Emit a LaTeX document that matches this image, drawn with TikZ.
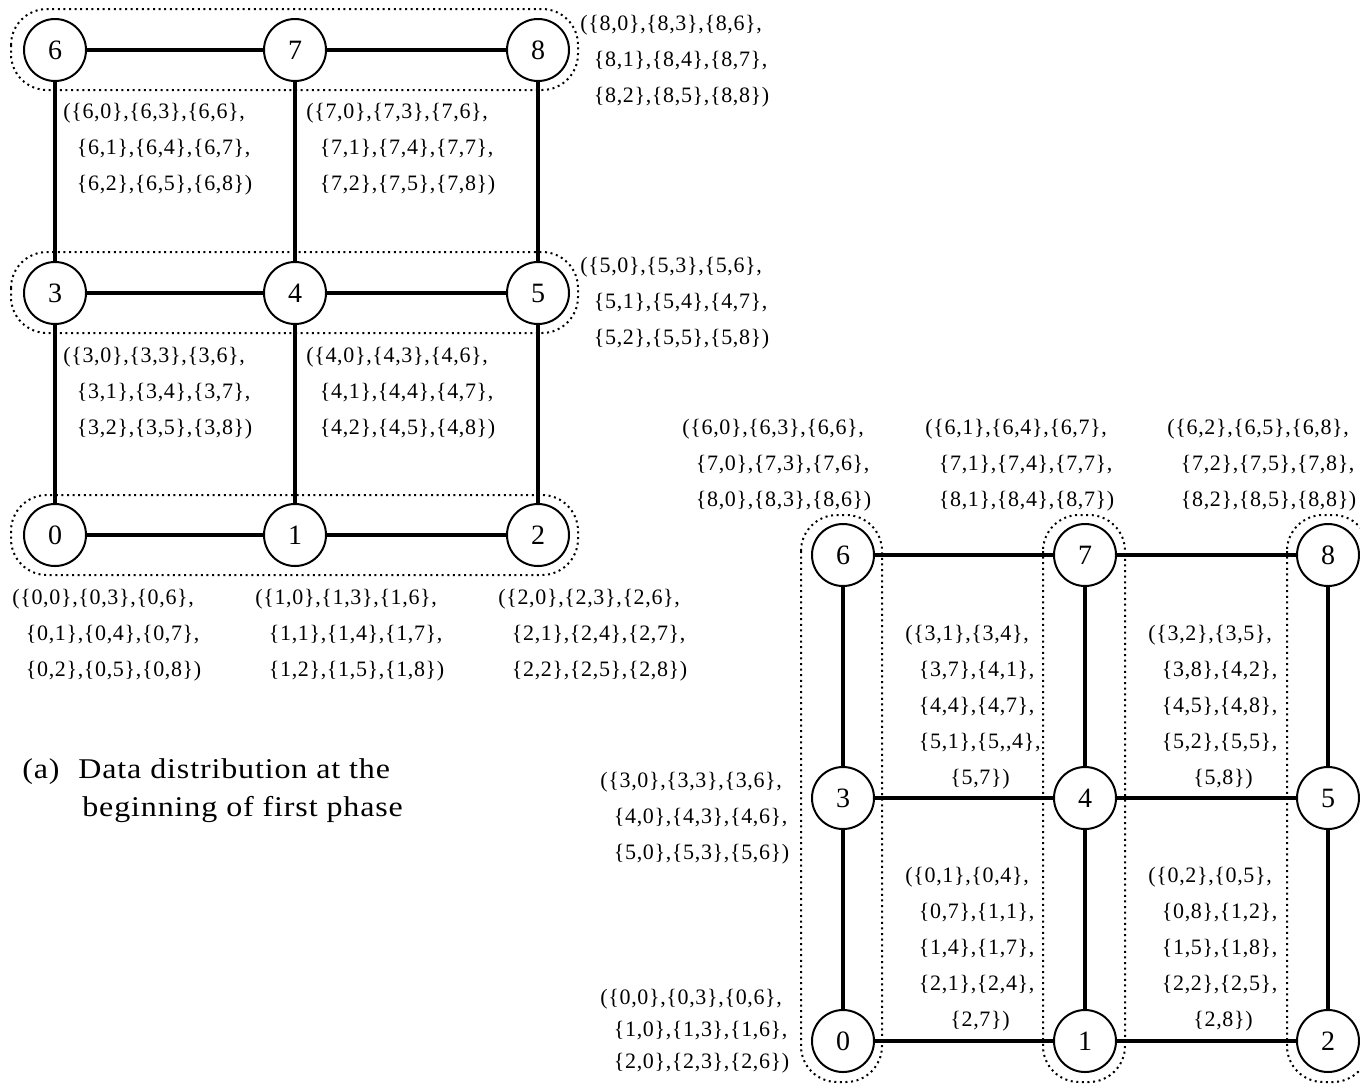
\documentclass[tikz,border=0pt]{standalone}
\usepackage{fontspec}
\setmainfont{Liberation Serif}
\newfontfamily\labfont[LetterSpace=3]{Liberation Serif}
\newfontfamily\capfont[FakeStretch=1.12,LetterSpace=3]{Liberation Serif}
\newcommand\lind{\hspace*{6.75pt}}
\newcommand\lindd{\hspace*{22.5pt}}
\begin{document}
\begin{tikzpicture}[x=0.5pt,y=-0.5pt,
  pe/.style={circle,draw,line width=1pt,minimum size=31pt,inner sep=0pt,fill=white,
    font=\fontsize{14}{16}\selectfont},
  link/.style={line width=1.7pt},
  group/.style={line width=1pt,dash pattern=on 1pt off 1.8pt,rounded corners=18pt},
  lab/.style={anchor=west,align=left,inner sep=0pt,font=\labfont\fontsize{11}{18}\selectfont},
  capstyle/.style={anchor=west,align=left,inner sep=0pt,font=\capfont\fontsize{14.3}{19}\selectfont},
]
\useasboundingbox (0,0) rectangle (1360,1083);
\clip (0,0) rectangle (1360,1083);

% ---------- (a) first phase: row groups ----------
\draw[group] (11,9) rectangle (578,90);
\draw[group] (11,252) rectangle (578,333);
\draw[group] (11,495) rectangle (578,575);

\node[pe] (a6) at (55,50) {6};
\node[pe] (a7) at (295,50) {7};
\node[pe] (a8) at (538,50) {8};
\node[pe] (a3) at (55,293) {3};
\node[pe] (a4) at (295,293) {4};
\node[pe] (a5) at (538,293) {5};
\node[pe] (a0) at (55,535) {0};
\node[pe] (a1) at (295,535) {1};
\node[pe] (a2) at (538,535) {2};

\draw[link] (a6)--(a7) (a7)--(a8) (a3)--(a4) (a4)--(a5) (a0)--(a1) (a1)--(a2)
            (a6)--(a3) (a3)--(a0) (a7)--(a4) (a4)--(a1) (a8)--(a5) (a5)--(a2);

\node[lab] (la8) at (580,61) {(\{8,0\},\{8,3\},\{8,6\},\\\lind\{8,1\},\{8,4\},\{8,7\},\\\lind\{8,2\},\{8,5\},\{8,8\})};
\node[lab] (la6) at (63,149) {(\{6,0\},\{6,3\},\{6,6\},\\\lind\{6,1\},\{6,4\},\{6,7\},\\\lind\{6,2\},\{6,5\},\{6,8\})};
\node[lab] (la7) at (306,149) {(\{7,0\},\{7,3\},\{7,6\},\\\lind\{7,1\},\{7,4\},\{7,7\},\\\lind\{7,2\},\{7,5\},\{7,8\})};
\node[lab] (la5) at (580,303) {(\{5,0\},\{5,3\},\{5,6\},\\\lind\{5,1\},\{5,4\},\{4,7\},\\\lind\{5,2\},\{5,5\},\{5,8\})};
\node[lab] (la3) at (63,393) {(\{3,0\},\{3,3\},\{3,6\},\\\lind\{3,1\},\{3,4\},\{3,7\},\\\lind\{3,2\},\{3,5\},\{3,8\})};
\node[lab] (la4) at (306,393) {(\{4,0\},\{4,3\},\{4,6\},\\\lind\{4,1\},\{4,4\},\{4,7\},\\\lind\{4,2\},\{4,5\},\{4,8\})};
\node[lab] (la0) at (12,635) {(\{0,0\},\{0,3\},\{0,6\},\\\lind\{0,1\},\{0,4\},\{0,7\},\\\lind\{0,2\},\{0,5\},\{0,8\})};
\node[lab] (la1) at (255,635) {(\{1,0\},\{1,3\},\{1,6\},\\\lind\{1,1\},\{1,4\},\{1,7\},\\\lind\{1,2\},\{1,5\},\{1,8\})};
\node[lab] (la2) at (498,635) {(\{2,0\},\{2,3\},\{2,6\},\\\lind\{2,1\},\{2,4\},\{2,7\},\\\lind\{2,2\},\{2,5\},\{2,8\})};

\node[capstyle] (capa) at (22,772) {(a)};
\node[capstyle] (capt) at (78,791) {Data distribution at the\\\hspace*{2pt}beginning of first phase};

% ---------- second phase: column groups ----------
\draw[group] (801,515) rectangle (882,1082);
\draw[group] (1043,515) rectangle (1125,1082);
\draw[group] (1287,515) rectangle (1369,1082);

\node[pe] (b6) at (843,555) {6};
\node[pe] (b7) at (1085,555) {7};
\node[pe] (b8) at (1328,555) {8};
\node[pe] (b3) at (843,798) {3};
\node[pe] (b4) at (1085,798) {4};
\node[pe] (b5) at (1328,798) {5};
\node[pe] (b0) at (843,1041) {0};
\node[pe] (b1) at (1085,1041) {1};
\node[pe] (b2) at (1328,1041) {2};

\draw[link] (b6)--(b7) (b7)--(b8) (b3)--(b4) (b4)--(b5) (b0)--(b1) (b1)--(b2)
            (b6)--(b3) (b3)--(b0) (b7)--(b4) (b4)--(b1) (b8)--(b5) (b5)--(b2);

\node[lab] (lb6) at (682,465) {(\{6,0\},\{6,3\},\{6,6\},\\\lind\{7,0\},\{7,3\},\{7,6\},\\\lind\{8,0\},\{8,3\},\{8,6\})};
\node[lab] (lb7) at (925,465) {(\{6,1\},\{6,4\},\{6,7\},\\\lind\{7,1\},\{7,4\},\{7,7\},\\\lind\{8,1\},\{8,4\},\{8,7\})};
\node[lab] (lb8) at (1167,465) {(\{6,2\},\{6,5\},\{6,8\},\\\lind\{7,2\},\{7,5\},\{7,8\},\\\lind\{8,2\},\{8,5\},\{8,8\})};
\node[lab] (lb3) at (600,818) {(\{3,0\},\{3,3\},\{3,6\},\\\lind\{4,0\},\{4,3\},\{4,6\},\\\lind\{5,0\},\{5,3\},\{5,6\})};
\node[lab,font=\labfont\fontsize{11}{16}\selectfont] (lb0) at (600,1031) {(\{0,0\},\{0,3\},\{0,6\},\\\lind\{1,0\},\{1,3\},\{1,6\},\\\lind\{2,0\},\{2,3\},\{2,6\})};

\node[lab] (c34) at (905,707) {(\{3,1\},\{3,4\},\\\lind\{3,7\},\{4,1\},\\\lind\{4,4\},\{4,7\},\\\lind\{5,1\},\{5,,4\},\\\lindd\{5,7\})};
\node[lab] (c45) at (1148,707) {(\{3,2\},\{3,5\},\\\lind\{3,8\},\{4,2\},\\\lind\{4,5\},\{4,8\},\\\lind\{5,2\},\{5,5\},\\\lindd\{5,8\})};
\node[lab] (c01) at (905,949) {(\{0,1\},\{0,4\},\\\lind\{0,7\},\{1,1\},\\\lind\{1,4\},\{1,7\},\\\lind\{2,1\},\{2,4\},\\\lindd\{2,7\})};
\node[lab] (c12) at (1148,949) {(\{0,2\},\{0,5\},\\\lind\{0,8\},\{1,2\},\\\lind\{1,5\},\{1,8\},\\\lind\{2,2\},\{2,5\},\\\lindd\{2,8\})};
\end{tikzpicture}
\end{document}
